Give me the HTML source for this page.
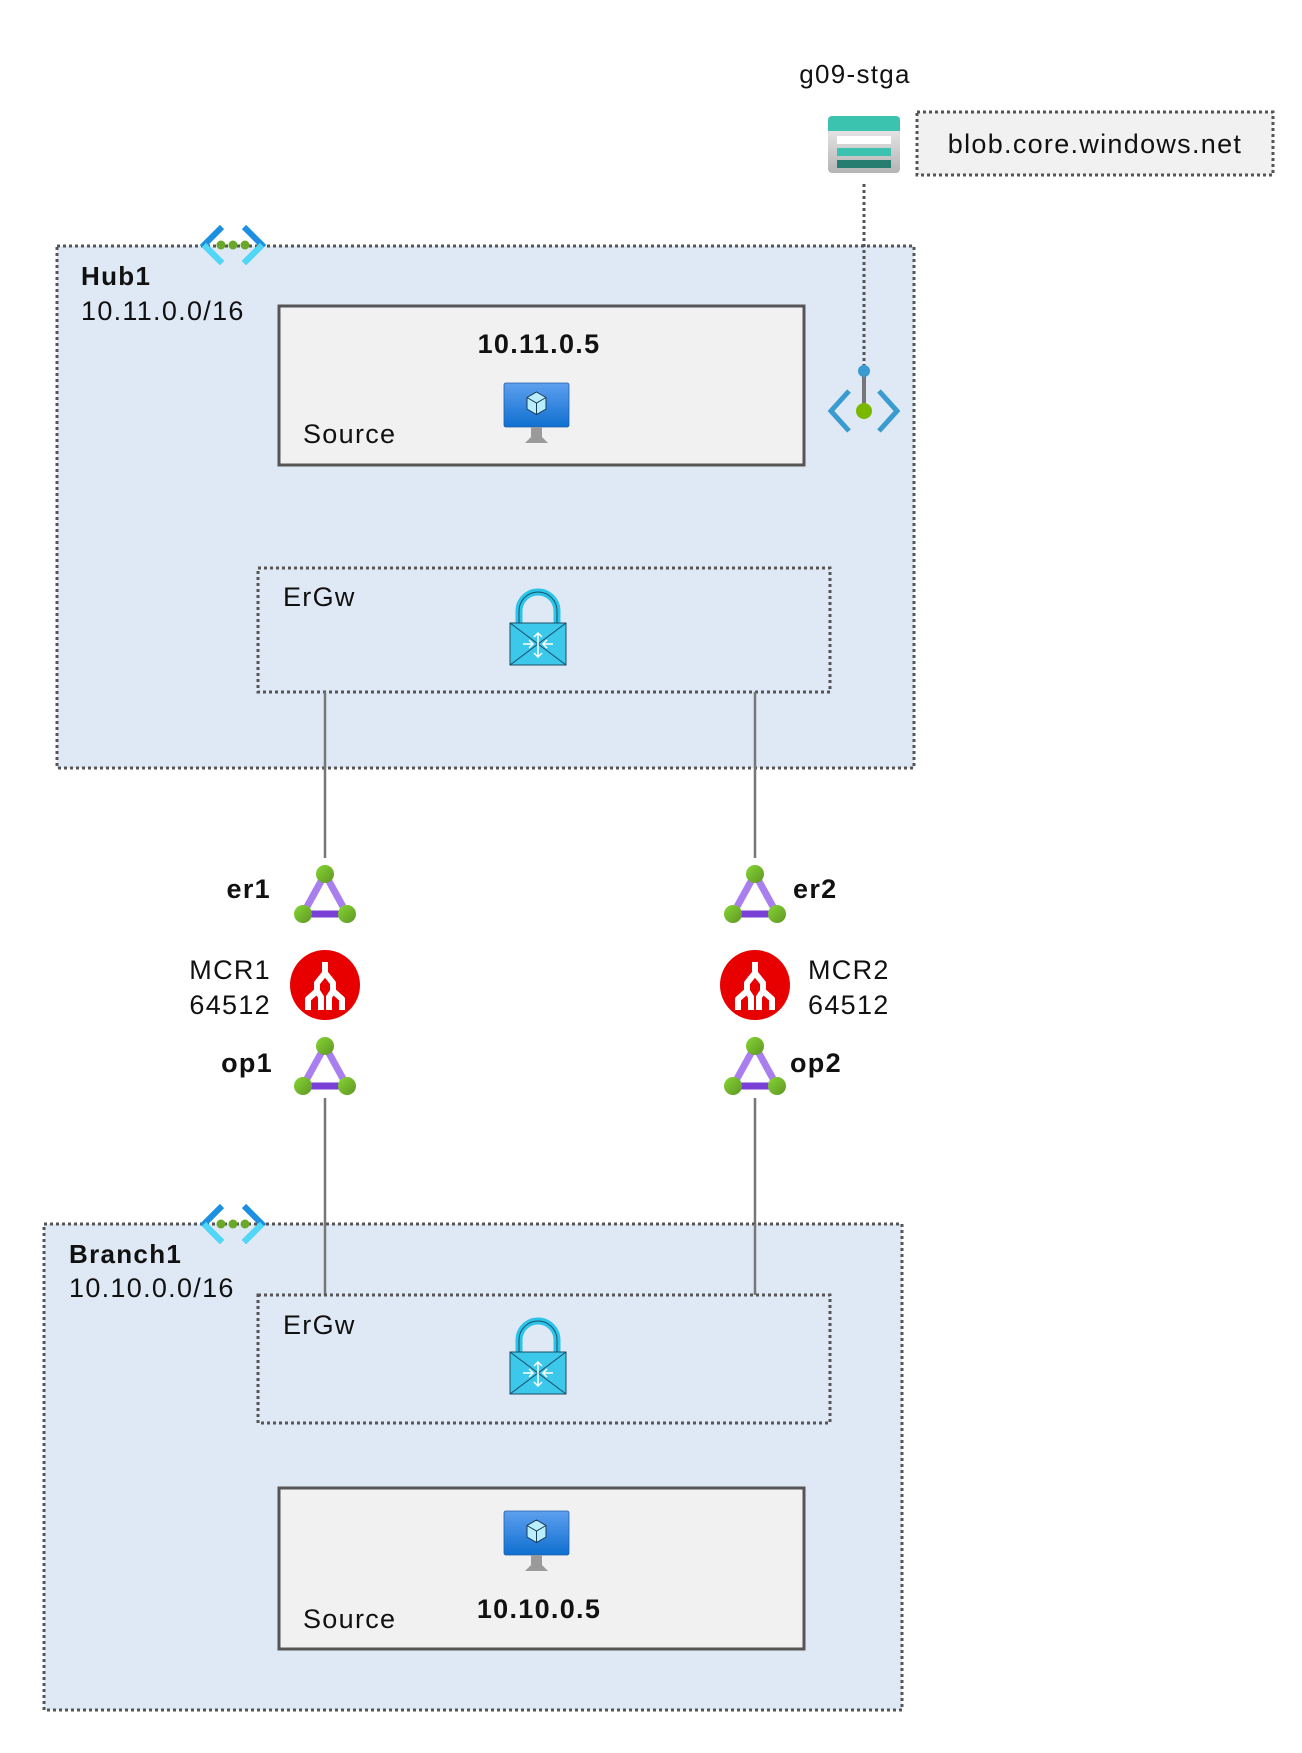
<!DOCTYPE html>
<html><head><meta charset="utf-8"><style>
html,body{margin:0;padding:0;background:#fff;}
svg{display:block;}
text{font-family:"Liberation Sans",Arial,sans-serif;fill:#111;letter-spacing:1.3px;}
</style></head><body>
<svg width="1302" height="1753" viewBox="0 0 1302 1753" xmlns="http://www.w3.org/2000/svg">
<defs>
<linearGradient id="vm" x1="0" y1="0" x2="0" y2="1"><stop offset="0" stop-color="#5ea0ef"/><stop offset="1" stop-color="#0f6fd0"/></linearGradient>
<linearGradient id="st" x1="0" y1="0" x2="0" y2="1"><stop offset="0" stop-color="#f4f4f4"/><stop offset="1" stop-color="#b4b4b4"/></linearGradient>
<linearGradient id="gd" x1="0" y1="0" x2="1" y2="1"><stop offset="0" stop-color="#86d633"/><stop offset="1" stop-color="#5e9624"/></linearGradient>
<g id="vmi">
<rect x="0" y="0" width="65" height="44" rx="2" fill="url(#vm)" stroke="#1e5fa8" stroke-width="0.8"/>
<polygon points="32.5,9 42,14.5 42,26 32.5,31.5 23,26 23,14.5" fill="#b9eefc" stroke="#1a3a55" stroke-width="1"/>
<path d="M23,14.5 L32.5,20 L42,14.5 M32.5,20 L32.5,31.5" stroke="#1a3a55" stroke-width="1" fill="none"/>
<path d="M27,44 L38,44 L38,54 L44,60 L21,60 L27,54 Z" fill="#9a9a9a"/>
</g>
<g id="lock">
<path d="M10,32 L10,18 A19,19 0 0 1 48,18 L48,32" fill="none" stroke="#2cc3e8" stroke-width="7"/>
<path d="M10,32 L10,18 A19,19 0 0 1 48,18 L48,32" fill="none" stroke="#1a4d66" stroke-width="1"/>
<rect x="1" y="30" width="56" height="42" fill="#3cc8ea" stroke="#1a4d66" stroke-width="1"/>
<path d="M1,30 L57,72 M57,30 L1,72" stroke="#1a4d66" stroke-width="1"/>
<path d="M29,40 L29,64 M25,44 L29,40 L33,44 M25,60 L29,64 L33,60 M14,51 L24,51 M20,47 L24,51 L20,55 M44,51 L34,51 M38,47 L34,51 L38,55" stroke="#fff" stroke-width="1.5" fill="none"/>
</g>
<g id="tri">
<path d="M0,-20 L-22,20 L22,20 Z" fill="none" stroke="#a97ff0" stroke-width="7"/>
<line x1="-22" y1="20" x2="22" y2="20" stroke="#7a3fd6" stroke-width="7"/>
<circle cx="0" cy="-20" r="9" fill="url(#gd)"/>
<circle cx="-22" cy="20" r="9" fill="url(#gd)"/>
<circle cx="22" cy="20" r="9" fill="url(#gd)"/>
</g>
<g id="mcr">
<circle cx="0" cy="0" r="35" fill="#e80000"/>
<path d="M0,-23 L0,-12 L-8,-2 L-8,6 L-17,14 L-17,25 M-8,6 L-4,12 L-4,25 M8,6 L4,12 L4,25 M8,6 L17,14 L17,25 M0,-12 L8,-2 L8,6" stroke="#fff" stroke-width="6" fill="none" stroke-linejoin="round"/>
</g>
<g id="vnet">
<path d="M22,3 L4,21 L22,39" stroke="#1d8fe0" stroke-width="6" fill="none"/>
<path d="M44,3 L62,21 L44,39" stroke="#1d8fe0" stroke-width="6" fill="none"/>
<path d="M4,21 L22,39 M62,21 L44,39" stroke="#4fd7f7" stroke-width="6"/>
<circle cx="21" cy="21" r="4.5" fill="#6aa82a"/><circle cx="33" cy="21" r="4.5" fill="#6aa82a"/><circle cx="45" cy="21" r="4.5" fill="#6aa82a"/>
</g>
</defs>

<text x="855" y="83" font-size="26" text-anchor="middle">g09-stga</text>
<rect x="828" y="116" width="72" height="57" rx="4" fill="url(#st)"/>
<path d="M828,130 L828,120 A4,4 0 0 1 832,116 L896,116 A4,4 0 0 1 900,120 L900,131 L828,131 Z" fill="#3cc3b0"/>
<rect x="837" y="136" width="54" height="8" fill="#fff"/>
<rect x="837" y="148" width="54" height="8" fill="#3cc3b0"/>
<rect x="837" y="160" width="54" height="8" fill="#267d70"/>
<rect x="917" y="112" width="356" height="63" fill="#f1f1f1" stroke="#555" stroke-width="3" stroke-dasharray="3,3"/>
<text x="1095" y="153" font-size="27" text-anchor="middle">blob.core.windows.net</text>

<rect x="57" y="246" width="857" height="522" fill="#dfe9f5" stroke="#555" stroke-width="3" stroke-dasharray="3,3"/>
<use href="#vnet" x="200" y="224"/>
<text x="81" y="285" font-size="26" font-weight="bold">Hub1</text>
<text x="81" y="320" font-size="27">10.11.0.0/16</text>
<rect x="279" y="306" width="525" height="159" fill="#f1f1f1" stroke="#555" stroke-width="3"/>
<text x="539" y="353" font-size="27" font-weight="bold" text-anchor="middle">10.11.0.5</text>
<use href="#vmi" x="504" y="383"/>
<text x="303" y="443" font-size="27">Source</text>
<rect x="258" y="568" width="572" height="124" fill="none" stroke="#555" stroke-width="3" stroke-dasharray="3,3"/>
<text x="283" y="606" font-size="27">ErGw</text>
<use href="#lock" x="509" y="593"/>

<line x1="864" y1="184" x2="864" y2="371" stroke="#555" stroke-width="3" stroke-dasharray="3,3"/>
<line x1="864" y1="371" x2="864" y2="411" stroke="#777" stroke-width="4"/>
<circle cx="864" cy="371" r="6" fill="#3a9bd0"/>
<circle cx="864" cy="411" r="8" fill="#7ab800"/>
<path d="M849,391 L831,411 L849,431 M879,391 L897,411 L879,431" stroke="#3a9bd0" stroke-width="5" fill="none"/>

<line x1="325" y1="692" x2="325" y2="858" stroke="#777" stroke-width="2.5"/>
<line x1="755" y1="692" x2="755" y2="858" stroke="#777" stroke-width="2.5"/>
<line x1="325" y1="1098" x2="325" y2="1295" stroke="#777" stroke-width="2.5"/>
<line x1="755" y1="1098" x2="755" y2="1295" stroke="#777" stroke-width="2.5"/>

<use href="#tri" x="325" y="894"/>
<use href="#mcr" x="325" y="985"/>
<use href="#tri" x="325" y="1066"/>
<use href="#tri" x="755" y="894"/>
<use href="#mcr" x="755" y="985"/>
<use href="#tri" x="755" y="1066"/>

<text x="271" y="898" font-size="27" font-weight="bold" text-anchor="end">er1</text>
<text x="271" y="979" font-size="27" text-anchor="end">MCR1</text>
<text x="271" y="1014" font-size="27" text-anchor="end">64512</text>
<text x="273" y="1072" font-size="27" font-weight="bold" text-anchor="end">op1</text>
<text x="793" y="898" font-size="27" font-weight="bold">er2</text>
<text x="808" y="979" font-size="27">MCR2</text>
<text x="808" y="1014" font-size="27">64512</text>
<text x="790" y="1072" font-size="27" font-weight="bold">op2</text>

<rect x="44" y="1224" width="858" height="486" fill="#dfe9f5" stroke="#555" stroke-width="3" stroke-dasharray="3,3"/>
<use href="#vnet" x="200" y="1203"/>
<line x1="325" y1="1224" x2="325" y2="1295" stroke="#777" stroke-width="2.5"/>
<line x1="755" y1="1224" x2="755" y2="1295" stroke="#777" stroke-width="2.5"/>
<text x="69" y="1263" font-size="26" font-weight="bold">Branch1</text>
<text x="69" y="1297" font-size="27">10.10.0.0/16</text>
<rect x="258" y="1295" width="572" height="128" fill="none" stroke="#555" stroke-width="3" stroke-dasharray="3,3"/>
<text x="283" y="1334" font-size="27">ErGw</text>
<use href="#lock" x="509" y="1322"/>
<rect x="279" y="1488" width="525" height="161" fill="#f1f1f1" stroke="#555" stroke-width="3"/>
<use href="#vmi" x="504" y="1511"/>
<text x="303" y="1628" font-size="27">Source</text>
<text x="539" y="1618" font-size="27" font-weight="bold" text-anchor="middle">10.10.0.5</text>
</svg>
</body></html>
